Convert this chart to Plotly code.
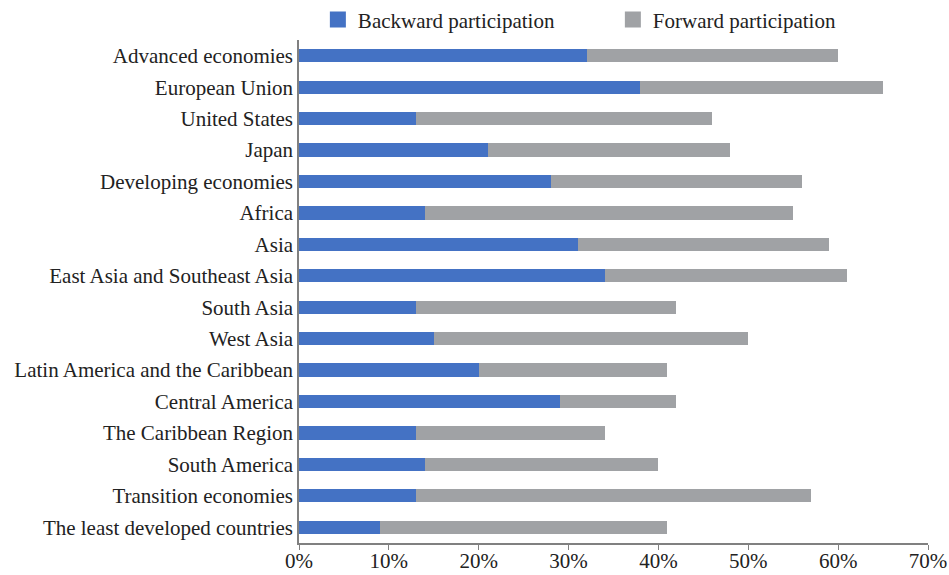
import plotly.graph_objects as go

categories = ["Advanced economies", "European Union", "United States", "Japan",
              "Developing economies", "Africa", "Asia", "East Asia and Southeast Asia",
              "South Asia", "West Asia", "Latin America and the Caribbean",
              "Central America", "The Caribbean Region", "South America",
              "Transition economies", "The least developed countries"]
backward = [32, 38, 13, 21, 28, 14, 31, 34, 13, 15, 20, 29, 13, 14, 13, 9]
total = [60, 65, 46, 48, 56, 55, 59, 61, 42, 50, 41, 42, 34, 40, 57, 41]
forward = [t - b for t, b in zip(total, backward)]
tick_vals = [0, 10, 20, 30, 40, 50, 60, 70]
tick_text = ["0%", "10%", "20%", "30%", "40%", "50%", "60%", "70%"]
series_names = ["Backward participation", "Forward participation"]
colors = ["#4472C4", "#A0A2A5"]

font = "Liberation Serif, Times New Roman, serif"
fs = 21

fig = go.Figure()
for vals, name, col in zip([backward, forward], series_names, colors):
    fig.add_trace(go.Bar(y=categories, x=vals, orientation="h", name=name,
                         marker=dict(color=col, line=dict(width=0)), width=0.42,
                         showlegend=False))
    fig.add_trace(go.Scatter(x=[None], y=[None], mode="markers", name=name,
                             marker=dict(symbol="square", size=17, color=col),
                             showlegend=True))

fig.update_layout(
    barmode="stack",
    width=949, height=575,
    margin=dict(l=299, r=21, t=40, b=32, autoexpand=False),
    paper_bgcolor="white", plot_bgcolor="white",
    font=dict(family=font, size=fs, color="#222222"),
    showlegend=True,
    legend=dict(orientation="h", x=0.03, xanchor="left", y=1.04, yanchor="middle",
                font=dict(family=font, size=fs, color="#222222"),
                itemwidth=30, entrywidth=250, entrywidthmode="pixels",
                traceorder="normal", bgcolor="rgba(0,0,0,0)"),
    xaxis=dict(range=[0, 70], tickvals=tick_vals, ticktext=tick_text, showgrid=False,
               zeroline=False, showline=True, linecolor="#808080", linewidth=1.5,
               ticks="outside", ticklen=5, tickcolor="#808080", ticklabelstandoff=-7,
               tickfont=dict(family=font, size=fs, color="#222222")),
    yaxis=dict(autorange="reversed", showgrid=False, zeroline=False, showline=True,
               linecolor="#808080", linewidth=1.5, ticks="", ticklabelstandoff=0,
               tickfont=dict(family=font, size=fs, color="#222222")),
)

fig.write_html("out.html")
